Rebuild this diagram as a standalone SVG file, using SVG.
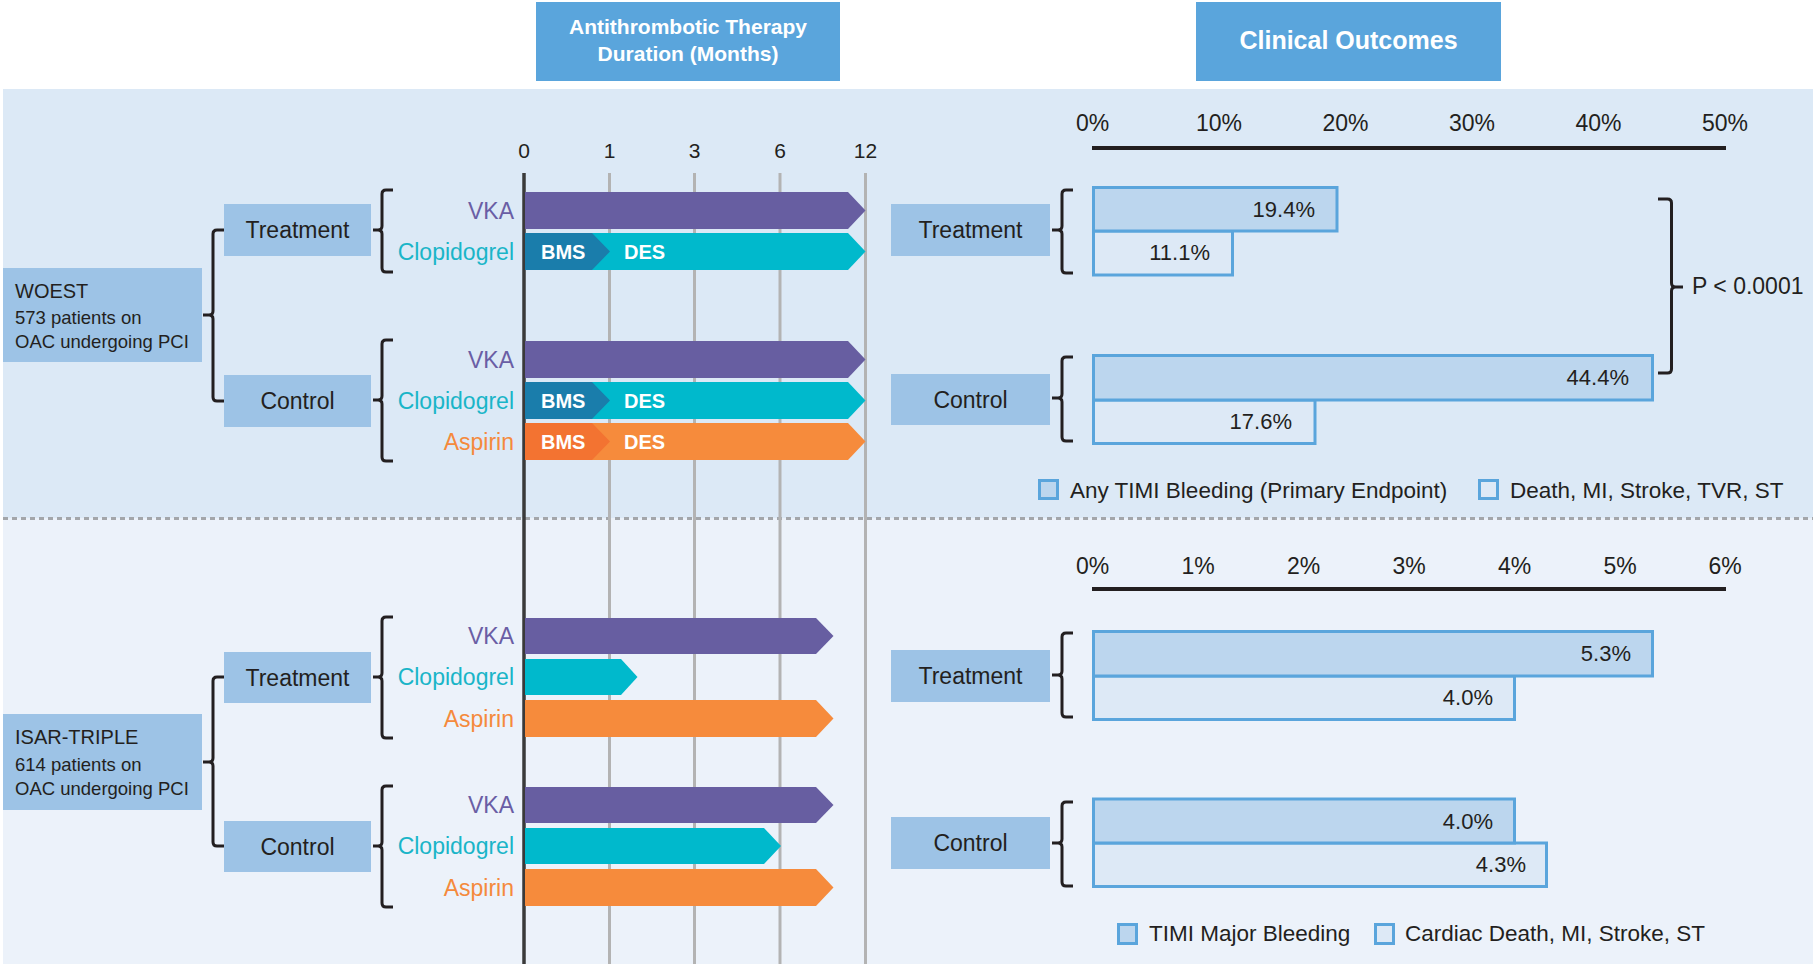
<svg xmlns="http://www.w3.org/2000/svg" width="1813" height="964" viewBox="0 0 1813 964">
<defs>
<style>
text{font-family:"Liberation Sans",Arial,sans-serif;fill:#231f20}
.title{font-weight:bold;fill:#fff;text-anchor:middle}
.box{fill:#9dc3e6}
.tbox{fill:#5aa5dc}
.lbl{font-size:23px;text-anchor:middle}
.tick{font-size:21px;text-anchor:middle}
.pct{font-size:23px;text-anchor:middle}
.val{font-size:22px;text-anchor:end}
.drug{font-size:23px;text-anchor:end}
.vka{fill:#675ea1}
.clo{fill:#00b9cc}
.asp{fill:#f68b3c}
.bmsb{fill:#1a7dab}
.bmso{fill:#f37331}
.wt{fill:#fff;font-size:20px;font-weight:bold}
.brace{fill:none;stroke:#231f20;stroke-width:3;stroke-linejoin:round;stroke-linecap:butt}
.grid{stroke:#b3b3b3;stroke-width:3}
.ob1{fill:#bcd6ee;stroke:#5aa5dc;stroke-width:3}
.ob2{fill:#dde9f6;stroke:#5aa5dc;stroke-width:3}
.leg{font-size:22.5px}
.small{font-size:18.5px}
</style>
</defs>
<rect x="0" y="0" width="1813" height="964" fill="#fff"/>
<rect x="3" y="89" width="1810" height="429" fill="#dce9f6"/>
<rect x="3" y="518" width="1810" height="446" fill="#ecf2fa"/>
<line x1="3" y1="518.5" x2="1813" y2="518.5" stroke="#a3a6aa" stroke-width="3" stroke-dasharray="5 4"/>

<g id="title-therapy">
<rect class="tbox" x="536" y="2" width="304" height="79"/>
<text class="title" x="688" y="34" font-size="21">Antithrombotic Therapy</text>
<text class="title" x="688" y="61" font-size="21">Duration (Months)</text>
</g>
<g id="title-outcomes">
<rect class="tbox" x="1196" y="2" width="305" height="79"/>
<text class="title" x="1348.5" y="49" font-size="25">Clinical Outcomes</text>
</g>

<g id="time-axis">
<line class="grid" x1="609.5" y1="173" x2="609.5" y2="964"/>
<line class="grid" x1="694.5" y1="173" x2="694.5" y2="964"/>
<line class="grid" x1="780" y1="173" x2="780" y2="964"/>
<line class="grid" x1="865.5" y1="173" x2="865.5" y2="964"/>
<line x1="524" y1="173" x2="524" y2="964" stroke="#3a3a3a" stroke-width="3.5"/>
<text class="tick" x="524" y="158">0</text>
<text class="tick" x="609.5" y="158">1</text>
<text class="tick" x="694.5" y="158">3</text>
<text class="tick" x="780" y="158">6</text>
<text class="tick" x="865.5" y="158">12</text>
</g>

<g id="woest">
<rect class="box" x="3" y="268" width="199" height="94"/>
<text x="15" y="298" font-size="20">WOEST</text>
<text class="small" x="15" y="324">573 patients on</text>
<text class="small" x="15" y="348">OAC undergoing PCI</text>
</g>
<g id="woest-treatment">
<rect class="box" x="224" y="204" width="147" height="52"/>
<text class="lbl" x="297.5" y="238">Treatment</text>
</g>
<g id="woest-control">
<rect class="box" x="224" y="375" width="147" height="52"/>
<text class="lbl" x="297.5" y="409">Control</text>
</g>
<g id="woest-treatment-bars">
<text class="drug" x="514" y="218.5" style="fill:#6a5ea5">VKA</text>
<path class="vka" d="M525,192H848L865.5,210.5L848,229H525Z"/>
<text class="drug" x="514" y="259.5" style="fill:#1ab5c8">Clopidogrel</text>
<path class="clo" d="M525,233H848L865.5,251.5L848,270H525Z"/>
<path class="bmsb" d="M525,233H592L610,251.5L592,270H525Z"/>
<text class="wt" x="541" y="258.5">BMS</text>
<text class="wt" x="624" y="258.5">DES</text>
</g>
<g id="woest-control-bars">
<text class="drug" x="514" y="367.5" style="fill:#6a5ea5">VKA</text>
<path class="vka" d="M525,341H848L865.5,359.5L848,378H525Z"/>
<text class="drug" x="514" y="408.5" style="fill:#1ab5c8">Clopidogrel</text>
<path class="clo" d="M525,382H848L865.5,400.5L848,419H525Z"/>
<path class="bmsb" d="M525,382H592L610,400.5L592,419H525Z"/>
<text class="wt" x="541" y="407.5">BMS</text>
<text class="wt" x="624" y="407.5">DES</text>
<text class="drug" x="514" y="449.5" style="fill:#f58a3c">Aspirin</text>
<path class="asp" d="M525,423H848L865.5,441.5L848,460H525Z"/>
<path class="bmso" d="M525,423H592L610,441.5L592,460H525Z"/>
<text class="wt" x="541" y="448.5">BMS</text>
<text class="wt" x="624" y="448.5">DES</text>
</g>

<g id="isar">
<rect class="box" x="3" y="714" width="199" height="96"/>
<text x="15" y="744" font-size="20">ISAR-TRIPLE</text>
<text class="small" x="15" y="771">614 patients on</text>
<text class="small" x="15" y="795">OAC undergoing PCI</text>
</g>
<g id="isar-treatment">
<rect class="box" x="224" y="652" width="147" height="51"/>
<text class="lbl" x="297.5" y="685.5">Treatment</text>
</g>
<g id="isar-control">
<rect class="box" x="224" y="821" width="147" height="51"/>
<text class="lbl" x="297.5" y="854.5">Control</text>
</g>
<g id="isar-treatment-bars">
<text class="drug" x="514" y="644" style="fill:#6a5ea5">VKA</text>
<path class="vka" d="M525,618H816L833.5,636L816,654H525Z"/>
<text class="drug" x="514" y="685" style="fill:#1ab5c8">Clopidogrel</text>
<path class="clo" d="M525,659H621L637.5,677L621,695H525Z"/>
<text class="drug" x="514" y="726.5" style="fill:#f58a3c">Aspirin</text>
<path class="asp" d="M525,700H816L833.5,718.5L816,737H525Z"/>
</g>
<g id="isar-control-bars">
<text class="drug" x="514" y="813" style="fill:#6a5ea5">VKA</text>
<path class="vka" d="M525,787H816L833.5,805L816,823H525Z"/>
<text class="drug" x="514" y="854" style="fill:#1ab5c8">Clopidogrel</text>
<path class="clo" d="M525,828H764L781,846L764,864H525Z"/>
<text class="drug" x="514" y="895.5" style="fill:#f58a3c">Aspirin</text>
<path class="asp" d="M525,869H816L833.5,887.5L816,906H525Z"/>
</g>

<g id="outcomes-woest">
<text class="pct" x="1092.5" y="131">0%</text>
<text class="pct" x="1219" y="131">10%</text>
<text class="pct" x="1345.5" y="131">20%</text>
<text class="pct" x="1472" y="131">30%</text>
<text class="pct" x="1598.5" y="131">40%</text>
<text class="pct" x="1725" y="131">50%</text>
<line x1="1092" y1="148" x2="1726" y2="148" stroke="#231f20" stroke-width="4"/>
</g>
<g id="outcome-woest-treatment">
<rect class="box" x="891" y="204" width="159" height="52"/>
<text class="lbl" x="970.5" y="238">Treatment</text>
<rect class="ob2" x="1093.5" y="231" width="139" height="44"/>
<rect class="ob1" x="1093.5" y="187.5" width="243.5" height="43.5"/>
<text class="val" x="1315" y="217">19.4%</text>
<text class="val" x="1210" y="260">11.1%</text>
</g>
<g id="outcome-woest-control">
<rect class="box" x="891" y="374" width="159" height="51"/>
<text class="lbl" x="970.5" y="407.5">Control</text>
<rect class="ob2" x="1093.5" y="400" width="221.5" height="43.5"/>
<rect class="ob1" x="1093.5" y="355.5" width="559" height="44.5"/>
<text class="val" x="1629" y="385">44.4%</text>
<text class="val" x="1292" y="429">17.6%</text>
</g>
<g id="legend-woest">
<rect class="ob1" x="1039.5" y="480.5" width="18" height="18"/>
<text class="leg" x="1070" y="498">Any TIMI Bleeding (Primary Endpoint)</text>
<rect class="ob2" x="1479.5" y="480.5" width="18" height="18"/>
<text class="leg" x="1510" y="498">Death, MI, Stroke, TVR, ST</text>
</g>

<g id="outcomes-isar">
<text class="pct" x="1092.5" y="574">0%</text>
<text class="pct" x="1198" y="574">1%</text>
<text class="pct" x="1303.5" y="574">2%</text>
<text class="pct" x="1409" y="574">3%</text>
<text class="pct" x="1514.5" y="574">4%</text>
<text class="pct" x="1620" y="574">5%</text>
<text class="pct" x="1725" y="574">6%</text>
<line x1="1092" y1="589" x2="1726" y2="589" stroke="#231f20" stroke-width="4"/>
</g>
<g id="outcome-isar-treatment">
<rect class="box" x="891" y="650" width="159" height="52"/>
<text class="lbl" x="970.5" y="684">Treatment</text>
<rect class="ob2" x="1093.5" y="676" width="421" height="43.5"/>
<rect class="ob1" x="1093.5" y="631.5" width="559" height="44.5"/>
<text class="val" x="1631" y="661">5.3%</text>
<text class="val" x="1493" y="705">4.0%</text>
</g>
<g id="outcome-isar-control">
<rect class="box" x="891" y="817" width="159" height="52"/>
<text class="lbl" x="970.5" y="851">Control</text>
<rect class="ob2" x="1093.5" y="843" width="453" height="43.5"/>
<rect class="ob1" x="1093.5" y="799" width="421" height="44"/>
<text class="val" x="1493" y="829">4.0%</text>
<text class="val" x="1526" y="872">4.3%</text>
</g>
<g id="legend-isar">
<rect class="ob1" x="1118.5" y="924.5" width="18" height="19"/>
<text class="leg" x="1149" y="941">TIMI Major Bleeding</text>
<rect class="ob2" x="1375.5" y="924.5" width="18" height="19"/>
<text class="leg" x="1405" y="941">Cardiac Death, MI, Stroke, ST</text>
</g>

<g id="p-value">
<text x="1692" y="294" font-size="23">P &lt; 0.0001</text>
</g>

<g id="connectors">
<path class="brace" d="M224,230H217Q213,230 213,234V311Q213,315 209,315H203M209,315Q213,315 213,319V397Q213,401 217,401H224"/>
<path class="brace" d="M393,190H386Q382,190 382,194V226Q382,230 378,230H373M378,230Q382,230 382,234V268Q382,272 386,272H393"/>
<path class="brace" d="M393,340H386Q382,340 382,344V396Q382,400 378,400H373M378,400Q382,400 382,404V457Q382,461 386,461H393"/>
<path class="brace" d="M224,677H217Q213,677 213,681V758Q213,762 209,762H203M209,762Q213,762 213,766V842Q213,846 217,846H224"/>
<path class="brace" d="M393,617H386Q382,617 382,621V673Q382,677 378,677H373M378,677Q382,677 382,681V734Q382,738 386,738H393"/>
<path class="brace" d="M393,786H386Q382,786 382,790V842Q382,846 378,846H373M378,846Q382,846 382,850V903Q382,907 386,907H393"/>
<path class="brace" d="M1073,190H1066Q1062,190 1062,194V226Q1062,230 1058,230H1052M1058,230Q1062,230 1062,234V269Q1062,273 1066,273H1073"/>
<path class="brace" d="M1073,357H1066Q1062,357 1062,361V394Q1062,398 1058,398H1052M1058,398Q1062,398 1062,402V437Q1062,441 1066,441H1073"/>
<path class="brace" d="M1073,633H1066Q1062,633 1062,637V671Q1062,675 1058,675H1052M1058,675Q1062,675 1062,679V713Q1062,717 1066,717H1073"/>
<path class="brace" d="M1073,802H1066Q1062,802 1062,806V839Q1062,843 1058,843H1052M1058,843Q1062,843 1062,847V882Q1062,886 1066,886H1073"/>
<path class="brace" d="M1658,199H1667.5Q1671.5,199 1671.5,203V283Q1671.5,287 1675.5,287H1683M1675.5,287Q1671.5,287 1671.5,291V369Q1671.5,373 1667.5,373H1658"/>
</g>
</svg>
